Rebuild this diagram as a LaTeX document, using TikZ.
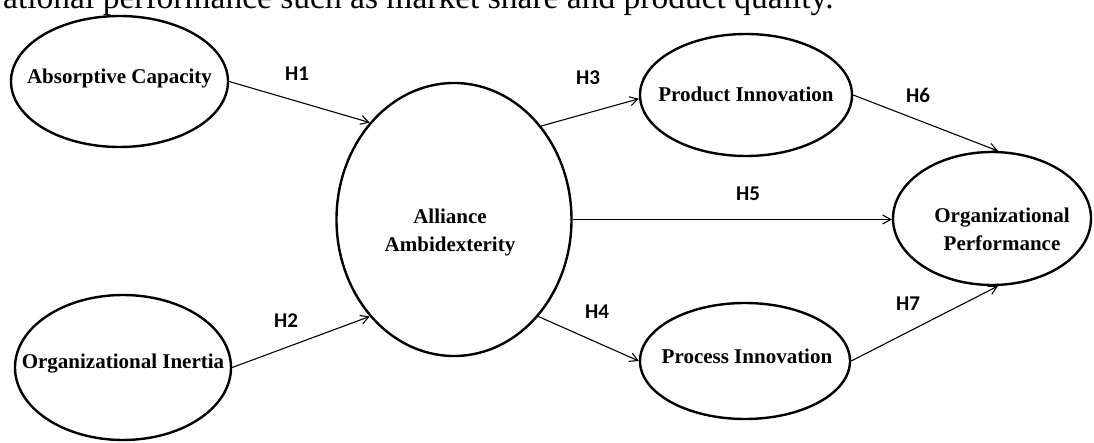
\documentclass[tikz,border=0pt]{standalone}
\usepackage{fontspec}
\setmainfont{Liberation Serif}
\newfontfamily\hfont{Carlito}
\usetikzlibrary{shapes.geometric,arrows.meta,calc}
\begin{document}
\begin{tikzpicture}[x=1pt,y=-1pt,
  ell/.style={draw, ellipse, line width=2.4pt, inner sep=0pt},
  nt/.style={font=\fontsize{21}{28}\selectfont\bfseries, align=center, inner sep=0pt},
  hl/.style={font=\hfont\fontsize{21}{24}\selectfont\bfseries, inner sep=0pt},
  arr/.style={line width=1.1pt, -{Straight Barb[length=8pt,width=9pt]}}]
\useasboundingbox (0,0) rectangle (1094,443);
\clip (0,0) rectangle (1094,443);
\node[anchor=base west, inner sep=0pt, font=\fontsize{33.5}{40}\selectfont] (top) at (3,8.5) {ational performance such as market share and product quality.};

\node[ell, minimum width=217pt, minimum height=131pt,
  label={[nt, yshift=3.3pt]center:Absorptive Capacity}] (ac) at (119.5,81.5) {};
\node[ell, minimum width=216pt, minimum height=145pt,
  label={[nt, yshift=4.3pt]center:Organizational Inertia}] (oi) at (123,367.5) {};
\node[ell, minimum width=235pt, minimum height=273pt,
  label={[nt, yshift=-12.6pt, xshift=-4pt]center:{Alliance\\Ambidexterity}}] (aa) at (454,219.5) {};
\node[ell, minimum width=212pt, minimum height=122pt,
  label={[nt, yshift=1.1pt]center:Product Innovation}] (pd) at (746,95) {};
\node[ell, minimum width=210pt, minimum height=116pt,
  label={[nt, yshift=5.1pt, xshift=2pt]center:Process Innovation}] (pc) at (745,361) {};
\node[ell, minimum width=198pt, minimum height=133pt,
  label={[nt, yshift=-10.9pt, xshift=10pt]center:{Organizational\\Performance}}] (op) at (992,218.5) {};

\draw[arr] (ac.east) -- (aa.131.4);
\draw[arr] (oi.east) -- (aa.229.9);
\draw[arr] (aa.47.6) -- (pd.182.7);
\draw[arr] (aa.311.1) -- (pc.west);
\draw[arr] (aa.east) -- (aa.east -| op.west);
\draw[arr] (pd.east) -- (op.85.8);
\draw[arr] (pc.east) -- (op.275);

\node[hl] (h1) at (297,74) {H1};
\node[hl] (h2) at (286,321) {H2};
\node[hl] (h3) at (588,78) {H3};
\node[hl] (h4) at (597,312) {H4};
\node[hl] (h5) at (748,194) {H5};
\node[hl] (h6) at (918,95) {H6};
\node[hl] (h7) at (908,304) {H7};
\end{tikzpicture}
\end{document}
